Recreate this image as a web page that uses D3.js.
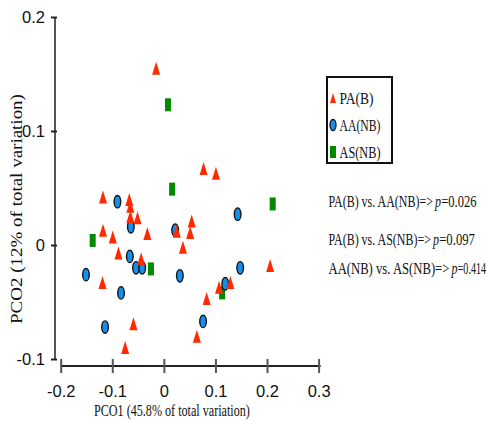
<!DOCTYPE html>
<html>
<head>
<meta charset="utf-8">
<script src="https://cdn.jsdelivr.net/npm/d3@7"></script>
<style>
body { margin: 0; background: #fff; }
svg { display: block; }
.tick text { font-family: "Liberation Sans Narrow", "Liberation Sans", Arial, sans-serif; font-size: 16.5px; fill: #111; }
.serif { font-family: "Liberation Serif", "Times New Roman", serif; fill: #111; }
</style>
</head>
<body>
<div id="chart"></div>
<script>
// PCO scores
var paX = [-0.118, -0.067, -0.065, -0.065, -0.051, -0.118, -0.099, -0.032, -0.088, -0.044, -0.119, -0.059, -0.075,
           0.025, 0.054, 0.051, 0.037, 0.083, 0.064, 0.107, 0.129, 0.206, -0.015, 0.077, 0.101];
var paY = [0.042, 0.040, 0.034, 0.025, 0.024, 0.013, 0.007, 0.010, -0.007, -0.012, -0.033, -0.069, -0.090,
           0.012, 0.021, 0.011, -0.002, -0.047, -0.080, -0.037, -0.033, -0.018, 0.155, 0.067, 0.063];
var aaX = [-0.090, -0.064, -0.066, -0.054, -0.042, -0.151, -0.083, -0.114, 0.022, 0.031, 0.076, 0.119, 0.143, 0.148];
var aaY = [0.038, 0.016, -0.010, -0.020, -0.020, -0.026, -0.042, -0.072, 0.013, -0.027, -0.067, -0.034, 0.027, -0.020];
var asX = [0.008, 0.016, -0.138, -0.025, 0.113, 0.211];
var asY = [0.123, 0.049, 0.004, -0.021, -0.042, 0.036];

var groups = ["PA(B)", "AA(NB)", "AS(NB)"];
var tests = ["PA(B) vs. AA(NB)=>", "PA(B) vs. AS(NB)=>", "AA(NB) vs. AS(NB)=>"];
var pValues = ["0.026", "0.097", "0.414"];
var xTicks = [-0.2, -0.1, 0, 0.1, 0.2, 0.3];
var yTicks = [-0.1, 0, 0.1, 0.2];

var width = 487, height = 421;
var svg = d3.select('#chart').append('svg')
    .attr('width', width)
    .attr('height', height);

var x = d3.scaleLinear().domain([-0.2, 0.3]).range([60.7, 318.6]);
var y = d3.scaleLinear().domain([-0.1, 0.2]).range([359, 17]);

function fmt(d) {
    return d === 0 ? "0" : String(+d.toFixed(1));
}

// squeeze a text horizontally so that it spans w pixels from (tx, ty)
function squeeze(sel, tx, ty, w, rot) {
    sel.each(function (d, i) {
        var node = this;
        var len = node.getComputedTextLength();
        var ww = typeof w === "function" ? w(d, i) : w;
        var xx = typeof tx === "function" ? tx(d, i) : tx;
        var yy = typeof ty === "function" ? ty(d, i) : ty;
        d3.select(node).attr("transform",
            "translate(" + xx + "," + yy + ")" + (rot ? " rotate(" + rot + ")" : "") + " scale(" + (ww / len) + ",1)");
    });
}

// y axis
var gy = svg.append("g")
    .attr("transform", "translate(55,0)")
    .call(d3.axisLeft(y).tickValues(yTicks).tickFormat(fmt).tickSizeOuter(0).tickSize(4).tickPadding(6));
gy.select(".domain").attr("stroke", "#555").attr("stroke-width", 2).attr("d", "M0," + y(0.2) + "V" + y(-0.1));
gy.selectAll(".tick line").attr("x1", 2).attr("x2", -4).attr("stroke", "#222").attr("stroke-width", 2);
gy.selectAll(".tick text").attr("dy", "0.36em");

// x axis
var gx = svg.append("g")
    .attr("transform", "translate(0,366)")
    .call(d3.axisBottom(x).tickValues(xTicks).tickFormat(fmt).tickSizeOuter(0).tickSize(7).tickPadding(12));
gx.select(".domain").attr("stroke", "#222").attr("stroke-width", 2).attr("d", "M" + x(-0.2) + ",0H" + (x(0.3) + 2));
gx.selectAll(".tick line").attr("y1", -7).attr("y2", 7).attr("stroke", "#555").attr("stroke-width", 2);

// axis titles
svg.append("text").attr("class", "serif")
    .attr("text-anchor", "middle")
    .attr("font-size", 17)
    .text("PCO2 (12% of total variation)")
    .call(squeeze, 22, 209, 230, -90);

svg.append("text").attr("class", "serif")
    .attr("font-size", 16.5)
    .text("PCO1 (45.8% of total variation)")
    .call(squeeze, 94, 416, 156);

// markers
function triPath(w, h) {
    return "M0," + (-h / 2) + "L" + (w / 2) + "," + (h / 2) + "L" + (-w / 2) + "," + (h / 2) + "Z";
}

var plot = svg.append("g");

plot.selectAll(".as").data(d3.range(asX.length)).enter().append("rect")
    .attr("class", "as")
    .attr("x", function (i) { return x(asX[i]) - 3; })
    .attr("y", function (i) { return y(asY[i]) - 6.5; })
    .attr("width", 6).attr("height", 13)
    .attr("fill", "#008a00");

plot.selectAll(".aa").data(d3.range(aaX.length)).enter().append("ellipse")
    .attr("class", "aa")
    .attr("cx", function (i) { return x(aaX[i]); })
    .attr("cy", function (i) { return y(aaY[i]); })
    .attr("rx", 3.3).attr("ry", 6.2)
    .attr("fill", "#1490ec")
    .attr("stroke", "#111").attr("stroke-width", 1.4);

plot.selectAll(".pa").data(d3.range(paX.length)).enter().append("path")
    .attr("class", "pa")
    .attr("transform", function (i) { return "translate(" + x(paX[i]) + "," + y(paY[i]) + ")"; })
    .attr("d", triPath(8, 13))
    .attr("fill", "#ff2a00");

// legend
var leg = svg.append("g");
leg.append("rect")
    .attr("x", 327).attr("y", 77).attr("width", 65).attr("height", 86)
    .attr("fill", "none").attr("stroke", "#111").attr("stroke-width", 2);

var legY = [98, 125, 152];
leg.append("path").attr("transform", "translate(333," + legY[0] + ")").attr("d", triPath(6, 10)).attr("fill", "#ff2a00");
leg.append("ellipse").attr("cx", 333).attr("cy", legY[1]).attr("rx", 3).attr("ry", 5.5)
    .attr("fill", "#1490ec").attr("stroke", "#111").attr("stroke-width", 1.3);
leg.append("rect").attr("x", 330).attr("y", legY[2] - 6).attr("width", 6).attr("height", 12).attr("fill", "#008a00");

leg.selectAll(".lab").data(groups).enter().append("text")
    .attr("class", "serif lab")
    .attr("font-size", 17)
    .text(function (d) { return d; })
    .call(squeeze, 339.5, function (d, i) { return legY[i] + 6; }, function (d, i) { return [34, 41, 41][i]; });

// test results: label, italic p, value
var statY = [207, 245, 274];
var pX = [435, 433, 451.5];
var endX = [476.5, 475, 486];
var stats = svg.append("g").selectAll("g").data(tests).enter().append("g");
stats.append("text")
    .attr("class", "serif")
    .attr("font-size", 17)
    .text(function (d) { return d; })
    .call(squeeze, 328.5, function (d, i) { return statY[i]; }, function (d, i) { return pX[i] - 2 - 328.5; });
stats.append("text")
    .attr("class", "serif")
    .attr("font-size", 17).attr("font-style", "italic")
    .text("p")
    .call(squeeze, function (d, i) { return pX[i]; }, function (d, i) { return statY[i]; }, 6);
stats.append("text")
    .attr("class", "serif")
    .attr("font-size", 17)
    .text(function (d, i) { return "=" + pValues[i]; })
    .call(squeeze, function (d, i) { return pX[i] + 6.2; }, function (d, i) { return statY[i]; },
        function (d, i) { return endX[i] - pX[i] - 6.2; });
</script>
</body>
</html>
